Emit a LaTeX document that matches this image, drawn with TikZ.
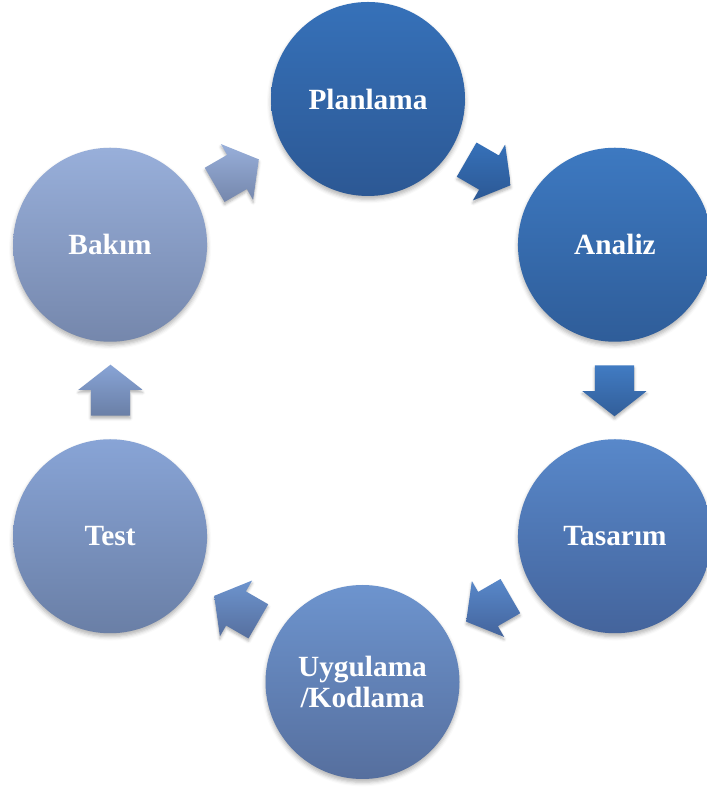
\documentclass[tikz,border=0pt]{standalone}
\usepackage{fontspec}
\setmainfont{Liberation Serif}
\usetikzlibrary{shapes.arrows,shadows.blur}

\definecolor{planTop}{HTML}{3671B9}
\definecolor{planBot}{HTML}{2C5894}
\definecolor{anaTop}{HTML}{3D79C1}
\definecolor{anaBot}{HTML}{2F5D99}
\definecolor{tasTop}{HTML}{5888CA}
\definecolor{tasBot}{HTML}{44649C}
\definecolor{uygTop}{HTML}{6D94CE}
\definecolor{uygBot}{HTML}{566F9E}
\definecolor{testTop}{HTML}{88A4D6}
\definecolor{testBot}{HTML}{6A7FA6}
\definecolor{bakTop}{HTML}{98AFDA}
\definecolor{bakBot}{HTML}{7587AC}

\newcommand\nodeDist{291.5}
\newcommand\arrowDist{252}
\newcommand\arrowBack{25.5}

\begin{document}
\begin{tikzpicture}[
    x=0.75pt,
    y=0.75pt,
    phase/.style={%
      circle,
      minimum size=145.5pt,
      inner sep=0pt,
      text=white,
      align=center,
      font=\bfseries\fontsize{22}{23.5}\selectfont,
      blur shadow={shadow xshift=0pt,shadow yshift=-2.5pt,shadow blur radius=3pt,shadow opacity=30},
    },
    cycle arrow/.style={%
      single arrow,
      anchor=tail,
      minimum height=38.25pt,
      inner xsep=0pt,
      inner ysep=14.6pt,
      single arrow head extend=9.4pt,
      single arrow tip angle=104,
      blur shadow={shadow xshift=0pt,shadow yshift=-2pt,shadow blur radius=2pt,shadow opacity=30},
    },
  ]

    \useasboundingbox (0,0) rectangle (706,787);
    \coordinate (O) at (362.5,396.5);

    \path (O) ++(90:\nodeDist) ++(5.5,0) node [phase,top color=planTop,bottom color=planBot] (P) {Planlama};
    \path (O) ++(30:\nodeDist) node [phase,top color=anaTop,bottom color=anaBot] (A) {Analiz};
    \path (O) ++(-30:\nodeDist) node [phase,top color=tasTop,bottom color=tasBot] (T) {Tasarım};
    \path (O) ++(-90:\nodeDist) node [phase,top color=uygTop,bottom color=uygBot] (U) {Uygulama\\/Kodlama};
    \path (O) ++(-150:\nodeDist) node [phase,top color=testTop,bottom color=testBot] (Te) {Test};
    \path (O) ++(150:\nodeDist) node [phase,top color=bakTop,bottom color=bakBot] (B) {Bakım};

    % arrows between the phases
    \path (O) ++(120:\arrowDist) ++(210:\arrowBack) node [cycle arrow,rotate=30,top color=bakTop,bottom color=bakBot] (BP) {};
    \path (O) ++(60:\arrowDist) ++(150:\arrowBack) node [cycle arrow,rotate=-30,top color=planTop,bottom color=planBot] (PA) {};
    \path (O) ++(0:\arrowDist) ++(90:\arrowBack) node [cycle arrow,rotate=-90,top color=anaTop!85!tasTop,bottom color=anaBot!85!tasBot] (AT) {};
    \path (O) ++(-60:\arrowDist) ++(30:\arrowBack) node [cycle arrow,rotate=-150,top color=tasTop,bottom color=tasBot] (TU) {};
    \path (O) ++(-120:\arrowDist) ++(-30:\arrowBack) node [cycle arrow,rotate=150,top color=uygTop,bottom color=uygBot] (UTe) {};
    \path (O) ++(180:\arrowDist) ++(-90:\arrowBack) node [cycle arrow,rotate=90,top color=testTop,bottom color=testBot] (TeB) {};
\end{tikzpicture}
\end{document}
